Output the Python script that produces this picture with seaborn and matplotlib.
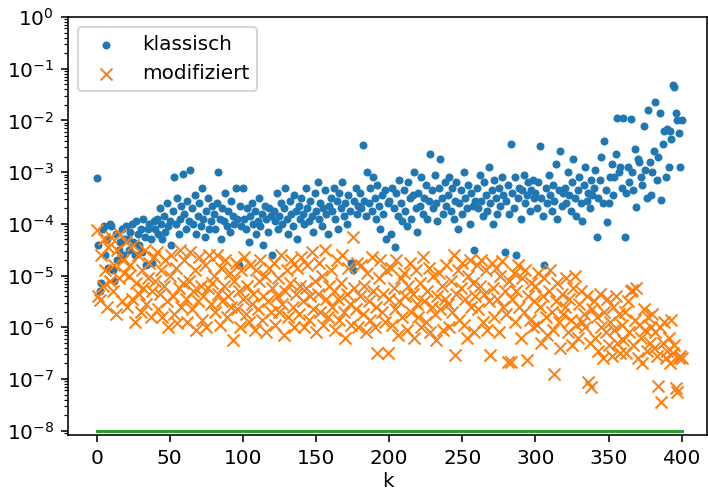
import numpy as np
import pandas as pd
import matplotlib
matplotlib.use("Agg")
import matplotlib.pyplot as plt
import seaborn as sns

# log10 of the error values, k = 0..400
klassisch_log10 = [
    -3.12, -4.4, -5.3, -5.15, -4.1, -4.05, -4.6, -4.3, -4.85, -4.0, -4.05, -4.9, -5.1, -4.2, -4.7, -4.5, -4.35, -4.1, -4.6, -4.3,
    -4.05, -4.3, -4.5, -4.15, -4.0, -4.35, -4.6, -3.95, -4.2, -4.4, -4.1, -4.55, -3.9, -4.25, -4.8, -4.1, -4.0, -4.3, -4.75, -3.95,
    -4.1, -3.9, -4.2, -3.7, -4.0, -4.3, -3.85, -4.15, -3.6, -4.05, -3.95, -4.4, -3.75, -3.09, -4.0, -3.5, -4.2, -3.9, -3.65, -3.03,
    -3.8, -4.1, -3.55, -3.95, -2.95, -3.7, -4.0, -3.45, -4.2, -3.85, -3.6, -4.05, -3.3, -3.9, -4.25, -3.75, -3.5, -4.1, -3.95, -3.65,
    -3.8, -4.1, -3.6, -3.0, -3.9, -4.3, -3.7, -3.95, -3.4, -4.05, -3.75, -4.15, -3.55, -3.85, -4.0, -3.3, -3.9, -4.8, -3.65, -4.05,
    -3.3, -3.9, -4.1, -3.7, -4.35, -3.85, -3.6, -4.0, -3.75, -4.2, -3.95, -3.5, -4.05, -3.8, -4.4, -3.65, -3.9, -4.15, -3.7, -3.85,
    -4.6, -3.75, -3.95, -3.4, -4.1, -3.85, -3.6, -4.0, -3.7, -3.3, -3.9, -4.2, -3.55, -3.8, -4.05, -3.45, -3.75, -4.3, -3.65, -3.9,
    -3.5, -3.8, -4.0, -3.3, -3.7, -3.95, -3.55, -3.85, -4.15, -3.4, -3.75, -3.2, -3.9, -3.6, -4.05, -3.7, -3.35, -3.8, -4.2, -3.65,
    -3.5, -3.75, -3.3, -3.9, -3.55, -4.1, -3.4, -3.7, -3.2, -3.85, -3.6, -4.0, -3.45, -3.75, -4.75, -4.9, -3.55, -3.3, -3.8, -3.65,
    -3.4, -3.7, -2.47, -3.55, -3.85, -3.0, -3.6, -3.3, -3.75, -3.1, -3.5, -3.9, -3.25, -3.65, -4.1, -3.45, -3.8, -3.35, -4.3, -3.6,
    -3.55, -4.2, -3.3, -3.7, -4.45, -3.4, -3.85, -3.15, -3.6, -3.95, -3.35, -3.75, -4.05, -3.2, -3.5, -3.9, -3.45, -3.0, -3.7, -4.15,
    -3.4, -3.65, -3.1, -3.8, -3.5, -3.25, -3.9, -3.55, -2.65, -3.35, -3.7, -3.05, -3.6, -3.95, -3.3, -2.75, -3.5, -3.8, -3.2, -3.65,
    -3.45, -3.1, -3.75, -3.3, -3.9, -3.55, -3.2, -4.1, -3.6, -3.35, -3.8, -3.0, -3.5, -3.7, -3.25, -4.0, -3.4, -3.65, -4.5, -3.55,
    -3.3, -3.7, -3.05, -3.55, -3.85, -3.2, -3.45, -3.75, -2.9, -3.6, -3.35, -4.0, -3.15, -3.5, -3.8, -3.3, -3.65, -3.1, -3.45, -4.55,
    -3.55, -3.25, -3.8, -2.45, -3.4, -3.7, -3.1, -4.6, -3.5, -3.3, -3.9, -3.35, -3.05, -3.6, -3.45, -3.2, -3.75, -3.35, -3.15, -3.5,
    -3.4, -3.7, -3.2, -2.5, -3.5, -3.85, -4.8, -3.3, -3.6, -3.05, -3.45, -3.75, -3.25, -3.55, -2.85, -3.9, -3.35, -2.6, -3.65, -3.4,
    -3.3, -3.6, -3.0, -3.45, -3.75, -3.2, -2.75, -3.5, -3.85, -3.35, -3.1, -3.6, -3.95, -3.25, -2.9, -3.55, -3.4, -3.7, -3.15, -3.45,
    -3.3, -2.95, -4.25, -3.5, -3.15, -2.7, -3.6, -2.4, -3.35, -3.96, -3.6, -3.1, -2.85, -3.45, -3.1, -2.64, -1.95, -3.0, -2.9, -3.3,
    -1.95, -4.25, -3.4, -2.9, -3.2, -1.98, -3.0, -3.35, -2.55, -3.67, -2.75, -2.8, -3.1, -3.25, -2.1, -2.95, -3.5, -1.8, -2.8, -3.45,
    -3.0, -2.6, -1.65, -3.15, -2.7, -1.85, -3.53, -2.45, -2.2, -3.1, -2.17, -2.9, -2.2, -2.35, -1.32, -1.35, -1.85, -2.0, -2.25, -2.9,
    -2.0,
]

modifiziert_log10 = [
    -4.12, -5.4, -5.48, -4.6, -5.2, -4.3, -4.9, -5.6, -4.45, -5.1, -4.25, -5.3, -4.8, -5.75, -4.5, -5.05, -4.2, -5.5, -4.7, -4.95,
    -4.35, -5.6, -5.0, -4.8, -5.45, -4.4, -5.9, -5.15, -4.6, -5.35, -5.7, -4.9, -5.25, -4.5, -5.55, -5.05, -4.75, -5.8, -5.3, -4.65,
    -5.1, -4.55, -5.65, -5.35, -4.9, -5.8, -5.2, -4.7, -5.5, -6.0, -5.0, -4.6, -5.4, -5.75, -4.85, -5.92, -5.25, -4.5, -5.6, -5.15,
    -4.7, -5.45, -5.9, -5.1, -4.55, -5.65, -5.3, -4.9, -6.05, -5.5, -4.65, -5.2, -5.85, -5.4, -4.8, -6.0, -5.25, -4.6, -5.55, -5.15,
    -5.0, -5.7, -4.6, -5.35, -5.95, -4.85, -5.5, -5.2, -4.7, -5.8, -5.4, -4.95, -5.6, -6.25, -5.1, -4.75, -5.65, -5.3, -6.0, -4.9,
    -5.45, -4.65, -5.75, -5.2, -5.9, -4.8, -5.55, -5.35, -6.06, -4.9, -5.65, -5.1, -4.7, -5.85, -5.4, -5.0, -6.1, -5.5, -4.85, -5.7,
    -5.25, -4.75, -5.95, -5.4, -5.05, -5.7, -4.6, -5.55, -6.15, -5.3, -4.9, -5.8, -5.15, -4.7, -5.6, -6.0, -5.35, -4.85, -5.75, -5.2,
    -4.65, -5.5, -6.0, -5.25, -4.8, -5.85, -5.4, -4.55, -5.65, -5.1, -6.1, -5.35, -4.75, -5.7, -5.0, -5.95, -4.5, -5.45, -5.8, -5.2,
    -4.9, -5.6, -5.3, -6.05, -4.7, -5.45, -5.85, -5.15, -4.6, -5.7, -6.2, -5.35, -4.85, -5.55, -5.95, -4.25, -5.25, -5.65, -4.75, -6.0,
    -5.4, -4.8, -5.75, -5.2, -6.1, -4.95, -5.5, -5.85, -4.65, -5.3, -6.0, -5.6, -6.5, -5.05, -4.7, -5.7, -5.35, -5.9, -4.9, -6.5,
    -5.45, -4.85, -5.95, -5.25, -5.65, -4.7, -6.15, -5.5, -5.05, -5.8, -4.95, -5.4, -6.05, -5.2, -4.75, -5.7, -5.35, -6.2, -4.9, -5.55,
    -5.8, -5.15, -6.0, -4.64, -5.5, -5.9, -5.3, -4.85, -6.1, -5.6, -5.0, -5.75, -6.25, -5.4, -4.95, -5.65, -5.2, -6.05, -5.45, -4.8,
    -5.55, -6.0, -5.1, -5.7, -4.6, -6.54, -5.35, -4.9, -5.85, -5.25, -4.75, -5.95, -5.45, -6.2, -5.0, -4.7, -5.6, -5.15, -6.1, -5.4,
    -4.8, -5.65, -5.2, -4.7, -5.9, -5.35, -4.9, -6.05, -5.5, -6.54, -4.75, -5.25, -5.8, -4.85, -5.45, -6.1, -5.0, -4.72, -5.6, -5.3,
    -5.75, -6.68, -5.1, -6.68, -5.45, -4.95, -5.9, -5.3, -4.8, -5.6, -6.2, -5.05, -5.7, -4.9, -6.64, -5.4, -5.85, -5.15, -6.0, -5.5,
    -5.2, -5.95, -4.95, -5.6, -6.3, -5.4, -5.05, -5.8, -6.15, -5.3, -4.9, -5.7, -6.05, -6.9, -5.5, -5.15, -5.9, -6.4, -5.35, -5.75,
    -5.6, -5.05, -6.1, -5.45, -5.85, -6.35, -5.25, -5.0, -5.95, -6.2, -5.55, -5.3, -5.9, -5.75, -6.0, -5.4, -7.05, -6.3, -7.15, -5.65,
    -5.5, -6.2, -5.8, -6.45, -5.35, -6.0, -6.6, -5.7, -6.1, -5.45, -6.35, -5.9, -6.55, -5.6, -6.05, -5.4, -6.3, -5.75, -6.5, -5.95,
    -6.25, -5.7, -6.5, -5.5, -6.1, -5.3, -5.28, -6.35, -5.85, -5.25, -6.6, -5.95, -6.2, -6.7, -5.65, -6.05, -6.45, -5.8, -6.3, -6.0,
    -5.75, -6.4, -6.1, -6.55, -7.13, -6.0, -7.45, -6.3, -5.9, -6.6, -6.45, -6.2, -6.7, -5.85, -6.5, -6.35, -7.18, -7.25, -6.6, -6.55,
    -6.6,
]

grenze_x = [0, 400]
grenze_y = [1e-8, 1e-8]

k = np.arange(len(klassisch_log10))
df = pd.DataFrame({
    "k": k,
    "klassisch": 10.0 ** np.array(klassisch_log10),
    "modifiziert": 10.0 ** np.array(modifiziert_log10),
})

DPI = 144
W, H = 708, 490
fig = plt.figure(figsize=(W / DPI, H / DPI), dpi=DPI)
left_px, right_px, top_px, bottom_px = 68, 707.3, 17, 435
ax = fig.add_axes([left_px / W, 1 - bottom_px / H,
                   (right_px - left_px) / W, (bottom_px - top_px) / H])

sns.scatterplot(data=df, x="k", y="klassisch", marker=".", s=36, color="C0",
                edgecolor="C0", linewidth=1.0, label="klassisch", ax=ax, zorder=2)
sns.scatterplot(data=df, x="k", y="modifiziert", marker="x", s=36, color="C1",
                linewidth=1.0, label="modifiziert", ax=ax, zorder=2)
sns.lineplot(x=grenze_x, y=grenze_y, color="C2", linewidth=1.5, ax=ax, zorder=2)

ax.set_yscale("log")
ax.set_ylim(10 ** -8.083, 1.0)
ax.set_xlim(-19.6, 417.5)
ax.set_xlabel("k", labelpad=2)
ax.set_ylabel("")
ax.legend(loc="upper left")

fig.savefig("out.png", dpi=DPI)
